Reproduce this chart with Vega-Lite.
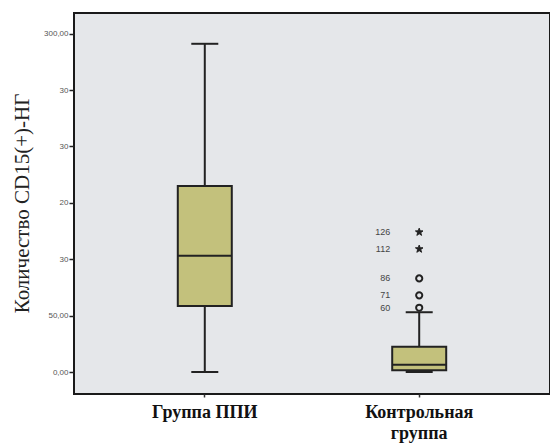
{
  "$schema": "https://vega.github.io/schema/vega-lite/v6.json",
  "autosize": "none",
  "width": 476,
  "height": 381,
  "padding": {"left": 74, "top": 13, "right": 0, "bottom": 54},
  "background": "#ffffff",
  "config": {
    "view": {"fill": "#e5e7ea", "stroke": "#1a1a1a", "strokeWidth": 2}
  },
  "datasets": {
    "summary": [
      {"group": "Группа ППИ", "min": 0, "q1": 58.5, "median": 103, "q3": 165, "max": 291},
      {"group": "Контрольная группа", "min": 0, "q1": 1.5, "median": 6.5, "q3": 22.5, "max": 53}
    ],
    "outliers": [
      {"group": "Контрольная группа", "value": 57, "case": "60", "kind": "outlier"},
      {"group": "Контрольная группа", "value": 68, "case": "71", "kind": "outlier"},
      {"group": "Контрольная группа", "value": 83, "case": "86", "kind": "outlier"},
      {"group": "Контрольная группа", "value": 109, "case": "112", "kind": "extreme"},
      {"group": "Контрольная группа", "value": 124, "case": "126", "kind": "extreme"}
    ]
  },
  "encoding": {
    "x": {
      "field": "group",
      "type": "nominal",
      "sort": ["Группа ППИ", "Контрольная группа"],
      "scale": {"domain": ["Группа ППИ", "Контрольная группа"], "paddingInner": 0, "paddingOuter": 0.11},
      "axis": {
        "title": null,
        "domain": false,
        "labelAngle": 0,
        "labelFont": "Liberation Serif",
        "labelFontWeight": "bold",
        "labelFontSize": 18,
        "labelColor": "#111111",
        "labelPadding": 6,
        "labelLineHeight": 21,
        "labelExpr": "datum.label == 'Контрольная группа' ? ['Контрольная', 'группа'] : datum.label",
        "tickSize": 3,
        "tickColor": "#333333",
        "tickWidth": 1.5
      }
    }
  },
  "layer": [
    {
      "data": {"name": "summary"},
      "mark": {"type": "rule", "color": "#222222", "strokeWidth": 2},
      "encoding": {
        "y": {
          "field": "min",
          "type": "quantitative",
          "scale": {"domain": [-19.5, 318.3], "nice": false, "zero": false},
          "axis": {
            "title": "Количество CD15(+)-НГ",
            "titleFont": "Liberation Serif",
            "titleFontSize": 21,
            "titleFontWeight": "normal",
            "titleColor": "#222222",
            "titleX": -52,
            "titleY": 190,
            "titleBaseline": "middle",
            "titleAngle": -90,
            "domain": false,
            "grid": false,
            "values": [0, 50, 100, 150, 200, 250, 300],
            "labelExpr": "datum.value == 300 ? '300,00' : datum.value == 250 ? '30' : datum.value == 200 ? '30' : datum.value == 150 ? '20' : datum.value == 100 ? '30' : datum.value == 50 ? '50,00' : '0,00'",
            "labelFont": "Liberation Sans",
            "labelFontSize": 8,
            "labelColor": "#555555",
            "labelPadding": 1,
            "tickSize": 5,
            "tickColor": "#222222",
            "tickWidth": 1.5
          }
        },
        "y2": {"field": "max"}
      }
    },
    {
      "data": {"name": "summary"},
      "mark": {"type": "tick", "color": "#222222", "opacity": 1, "thickness": 2, "size": 27},
      "encoding": {"y": {"field": "min", "type": "quantitative"}}
    },
    {
      "data": {"name": "summary"},
      "mark": {"type": "tick", "color": "#222222", "opacity": 1, "thickness": 2, "size": 27},
      "encoding": {"y": {"field": "max", "type": "quantitative"}}
    },
    {
      "data": {"name": "summary"},
      "mark": {"type": "bar", "size": 54, "fill": "#c3c17c", "stroke": "#222222", "strokeWidth": 2, "opacity": 1},
      "encoding": {
        "y": {"field": "q1", "type": "quantitative"},
        "y2": {"field": "q3"}
      }
    },
    {
      "data": {"name": "summary"},
      "mark": {"type": "tick", "color": "#222222", "opacity": 1, "thickness": 2, "size": 54},
      "encoding": {"y": {"field": "median", "type": "quantitative"}}
    },
    {
      "data": {"name": "outliers"},
      "mark": {"type": "point", "filled": false, "strokeWidth": 2, "size": 38, "opacity": 1},
      "encoding": {
        "y": {"field": "value", "type": "quantitative"},
        "shape": {
          "field": "kind",
          "type": "nominal",
          "scale": {"domain": ["outlier", "extreme"], "range": ["circle", "M0,-1L0.24,-0.33L0.95,-0.31L0.38,0.12L0.59,0.81L0,0.4L-0.59,0.81L-0.38,0.12L-0.95,-0.31L-0.24,-0.33Z"]},
          "legend": null
        },
        "size": {
          "field": "kind",
          "type": "nominal",
          "scale": {"domain": ["outlier", "extreme"], "range": [38, 64]},
          "legend": null
        },
        "strokeWidth": {
          "field": "kind",
          "type": "nominal",
          "scale": {"domain": ["outlier", "extreme"], "range": [2, 1]},
          "legend": null
        },
        "color": {
          "field": "kind",
          "type": "nominal",
          "scale": {"domain": ["outlier", "extreme"], "range": ["#222222", "#222222"]},
          "legend": null
        },
        "fill": {
          "field": "kind",
          "type": "nominal",
          "scale": {"domain": ["outlier", "extreme"], "range": ["transparent", "#222222"]},
          "legend": null
        }
      }
    },
    {
      "data": {"name": "outliers"},
      "mark": {"type": "text", "align": "right", "baseline": "middle", "dx": -29, "font": "Liberation Sans", "fontSize": 9, "color": "#444444"},
      "encoding": {
        "y": {"field": "value", "type": "quantitative"},
        "text": {"field": "case"}
      }
    }
  ]
}
